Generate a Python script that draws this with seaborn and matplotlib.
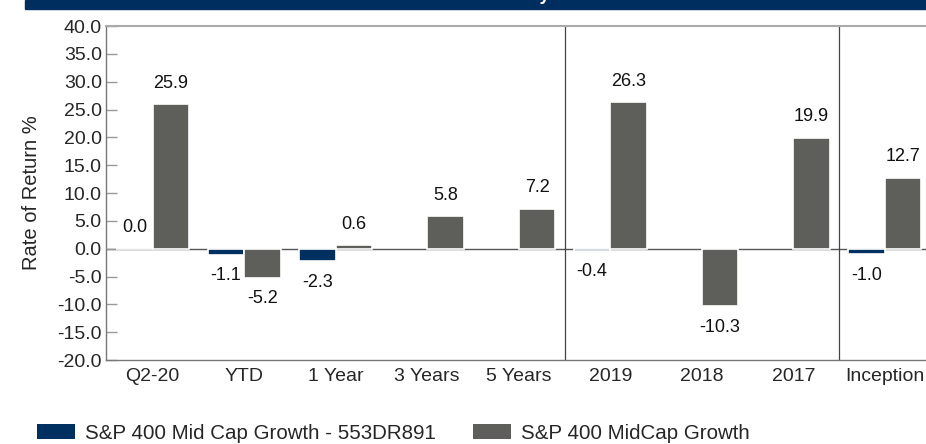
import matplotlib
matplotlib.use("Agg")
import matplotlib.pyplot as plt
from matplotlib.patches import Rectangle, Patch
import numpy as np
import pandas as pd
import seaborn as sns

# data
periods = ["Q2-20", "YTD", "1 Year", "3 Years", "5 Years", "2019", "2018", "2017", "Inception"]
portfolio = [0.0, -1.1, -2.3, np.nan, np.nan, -0.4, np.nan, np.nan, -1.0]
benchmark = [25.9, -5.2, 0.6, 5.8, 7.2, 26.3, -10.3, 19.9, 12.7]
series_names = ["S&P 400 Mid Cap Growth - 553DR891", "S&P 400 MidCap Growth"]
yticks = np.arange(-20, 45, 5)

navy = "#00305F"
gray = "#5E5F5B"

df = pd.DataFrame({
    "Period": periods * 2,
    "Return": portfolio + benchmark,
    "Series": [series_names[0]] * len(periods) + [series_names[1]] * len(periods),
})

sns.set_theme(style="white")
plt.rcParams["font.family"] = ["Liberation Sans", "DejaVu Sans"]

fig = plt.figure(figsize=(9.26, 4.44), dpi=100)
ax = fig.add_axes([106 / 926, 1 - 360 / 444, 1 - 106 / 926, (360 - 26) / 444])

ax.axhline(0, color="#555555", lw=1.0, zorder=0)
sns.barplot(data=df, x="Period", y="Return", hue="Series", order=periods,
            hue_order=series_names, palette=[navy, gray], width=0.8,
            edgecolor="white", linewidth=1.2, saturation=1, ax=ax, legend=False,
            zorder=2)

# value labels
for vals, off in [(portfolio, -0.2), (benchmark, 0.2)]:
    for i, v in enumerate(vals):
        if np.isnan(v):
            continue
        up = v >= 0
        ax.annotate(f"{v:.1f}", (i + off, v), xytext=(0, 9 if up else -9),
                    textcoords="offset points", ha="center",
                    va="bottom" if up else "top", fontsize=13,
                    color="#111111")

for xv in [4.5, 7.5]:
    ax.axvline(xv, color="#444444", lw=0.9, zorder=1)

ax.set_ylim(-20, 40)
ax.set_xlim(-0.51, 8.45)
ax.set_yticks(yticks)
ax.set_yticklabels([f"{t:.1f}" for t in yticks], fontsize=14)
ax.set_xticks(range(len(periods)))
ax.set_xticklabels(periods, fontsize=14)
ax.tick_params(axis="y", direction="in", length=8, width=1, color="#999999",
               pad=3, left=True)
ax.tick_params(axis="x", length=0, pad=6)
ax.set_xlabel("")
ax.set_ylabel("Rate of Return %", fontsize=14.5, labelpad=12)

for side in ["left", "bottom"]:
    ax.spines[side].set_color("#777777")
    ax.spines[side].set_linewidth(1.0)
ax.spines["top"].set_color("#aaaaaa")
ax.spines["top"].set_linewidth(1.5)
ax.spines["right"].set_visible(False)

# header banner (cut off in the reference)
fig.patches.append(Rectangle((25 / 926, 1 - 9 / 444), 1, 9 / 444,
                             transform=fig.transFigure, color="#002F5F", zorder=5))
fig.text(550 / 926, 1.0, "Performance Summary", ha="right", va="baseline",
         color="white", fontsize=13, fontweight="bold", zorder=6)

handles = [Patch(facecolor=navy, edgecolor="none"), Patch(facecolor=gray, edgecolor="none")]
fig.legend(handles, series_names, loc="center left",
           bbox_to_anchor=(37 / 926, 1 - 433 / 444), ncol=2, frameon=False,
           fontsize=14.8, handlelength=1.85, handleheight=0.75, handletextpad=0.5,
           columnspacing=1.8, borderpad=0, borderaxespad=0)

fig.savefig("out.png", dpi=100)
